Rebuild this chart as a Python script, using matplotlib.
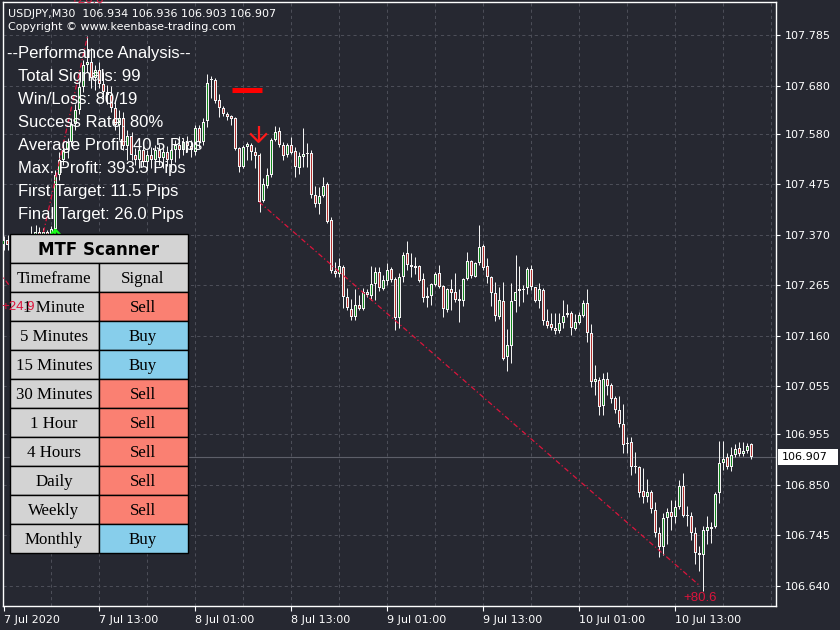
import matplotlib
matplotlib.use('Agg')
import matplotlib.pyplot as plt
from matplotlib.patches import Rectangle
import numpy as np

# ---------------- data (USDJPY M30 candles) ----------------
opens = [
 107.348,107.359,107.348,107.313,107.265,107.242,107.234,107.292,107.359,107.375,
 107.367,107.375,107.359,107.382,107.494,107.525,107.546,107.563,107.600,107.629,
 107.677,107.723,107.729,107.696,107.712,107.683,107.667,107.660,107.633,107.598,
 107.613,107.554,107.575,107.536,107.525,107.546,107.521,107.536,107.525,107.546,
 107.529,107.542,107.525,107.546,107.556,107.546,107.563,107.554,107.542,107.592,
 107.563,107.606,107.692,107.692,107.650,107.633,107.621,107.617,107.613,107.550,
 107.511,107.552,107.556,107.542,107.536,107.440,107.471,107.494,107.567,107.586,
 107.556,107.536,107.556,107.544,107.509,107.531,107.538,107.540,107.452,107.434,
 107.450,107.475,107.400,107.294,107.288,107.303,107.240,107.215,107.199,107.224,
 107.215,107.251,107.242,107.267,107.292,107.257,107.274,107.298,107.278,107.197,
 107.282,107.332,107.307,107.305,107.305,107.278,107.238,107.242,107.265,107.290,
 107.263,107.213,107.257,107.251,107.232,107.232,107.278,107.315,107.282,107.311,
 107.346,107.305,107.282,107.249,107.199,107.232,107.115,107.138,107.232,107.253,
 107.257,107.259,107.298,107.261,107.232,107.255,107.190,107.184,107.176,107.170,
 107.186,107.203,107.207,107.174,107.186,107.201,107.228,107.165,107.063,107.068,
 107.014,107.070,107.057,107.030,107.005,106.976,106.937,106.939,106.887,106.887,
 106.837,106.824,106.835,106.797,106.749,106.720,106.781,106.793,106.783,106.803,
 106.847,106.785,106.785,106.749,106.708,106.704,106.754,106.762,106.762,106.833,
 106.895,106.907,106.887,106.912,106.926,106.914,106.920,106.934]
highs = [
 107.367,107.369,107.355,107.321,107.276,107.255,107.301,107.388,107.390,107.386,
 107.384,107.380,107.388,107.504,107.542,107.563,107.571,107.613,107.642,107.687,
 107.733,107.783,107.758,107.723,107.729,107.708,107.681,107.679,107.650,107.629,
 107.625,107.588,107.583,107.550,107.556,107.554,107.546,107.552,107.556,107.558,
 107.550,107.554,107.550,107.567,107.575,107.571,107.575,107.567,107.598,107.598,
 107.613,107.704,107.700,107.696,107.662,107.638,107.625,107.619,107.615,107.552,
 107.556,107.563,107.561,107.552,107.540,107.488,107.509,107.571,107.596,107.594,
 107.563,107.561,107.573,107.552,107.542,107.592,107.561,107.546,107.471,107.469,
 107.490,107.479,107.407,107.313,107.321,107.307,107.259,107.236,107.257,107.244,
 107.259,107.257,107.305,107.303,107.303,107.286,107.311,107.303,107.282,107.290,
 107.334,107.357,107.332,107.323,107.307,107.290,107.261,107.269,107.292,107.307,
 107.265,107.259,107.278,107.290,107.257,107.280,107.334,107.317,107.313,107.390,
 107.350,107.321,107.284,107.271,107.261,107.271,107.174,107.269,107.328,107.305,
 107.265,107.303,107.307,107.261,107.269,107.259,107.215,107.207,107.207,107.207,
 107.234,107.226,107.211,107.205,107.209,107.234,107.257,107.184,107.099,107.074,
 107.082,107.084,107.061,107.034,107.034,107.018,106.949,106.949,106.918,106.889,
 106.885,106.862,106.839,106.814,106.762,106.791,106.801,106.818,106.818,106.860,
 106.874,106.806,106.793,106.762,106.722,106.764,106.785,106.772,106.835,106.941,
 106.941,106.916,106.928,106.934,106.939,106.939,106.937,106.936]
lows = [
 107.338,107.338,107.307,107.259,107.230,107.222,107.228,107.286,107.348,107.359,
 107.355,107.348,107.346,107.380,107.484,107.515,107.529,107.554,107.588,107.621,
 107.667,107.708,107.675,107.671,107.675,107.650,107.642,107.625,107.588,107.567,
 107.546,107.525,107.525,107.515,107.509,107.513,107.504,107.509,107.511,107.515,
 107.509,107.513,107.504,107.521,107.529,107.536,107.542,107.531,107.536,107.550,
 107.556,107.594,107.654,107.644,107.615,107.617,107.608,107.598,107.546,107.500,
 107.509,107.525,107.525,107.509,107.417,107.438,107.467,107.490,107.565,107.552,
 107.525,107.531,107.538,107.490,107.496,107.511,107.511,107.446,107.427,107.413,
 107.448,107.394,107.290,107.282,107.282,107.217,107.213,107.192,107.192,107.213,
 107.213,107.240,107.234,107.234,107.253,107.255,107.265,107.271,107.172,107.176,
 107.271,107.296,107.282,107.288,107.271,107.230,107.219,107.224,107.263,107.259,
 107.199,107.209,107.213,107.230,107.188,107.222,107.276,107.280,107.282,107.307,
 107.296,107.269,107.222,107.190,107.194,107.109,107.086,107.103,107.209,107.222,
 107.230,107.246,107.255,107.230,107.217,107.182,107.176,107.172,107.163,107.165,
 107.176,107.199,107.161,107.172,107.184,107.199,107.147,107.053,107.036,106.995,
 106.995,107.036,107.020,106.999,106.970,106.916,106.916,106.870,106.874,106.824,
 106.812,106.814,106.791,106.741,106.699,106.704,106.726,106.756,106.770,106.799,
 106.783,106.764,106.735,106.685,106.670,106.629,106.726,106.729,106.760,106.812,
 106.880,106.882,106.878,106.907,106.910,106.910,106.916,106.903]
closes = [
 107.359,107.348,107.313,107.265,107.242,107.234,107.292,107.359,107.375,107.367,
 107.375,107.359,107.382,107.494,107.525,107.546,107.563,107.600,107.629,107.677,
 107.723,107.729,107.696,107.712,107.683,107.667,107.660,107.633,107.598,107.613,
 107.554,107.575,107.536,107.525,107.546,107.521,107.536,107.525,107.546,107.529,
 107.542,107.525,107.546,107.556,107.546,107.563,107.554,107.546,107.592,107.563,
 107.604,107.685,107.694,107.648,107.633,107.621,107.615,107.610,107.548,107.511,
 107.552,107.558,107.542,107.534,107.438,107.475,107.494,107.567,107.583,107.556,
 107.534,107.556,107.540,107.511,107.534,107.538,107.540,107.452,107.434,107.450,
 107.471,107.396,107.294,107.288,107.305,107.240,107.217,107.199,107.224,107.215,
 107.251,107.244,107.267,107.292,107.259,107.276,107.296,107.276,107.197,107.282,
 107.328,107.307,107.303,107.301,107.274,107.238,107.242,107.267,107.288,107.261,
 107.215,107.257,107.249,107.234,107.236,107.278,107.315,107.284,107.311,107.344,
 107.301,107.282,107.249,107.201,107.234,107.111,107.140,107.232,107.251,107.257,
 107.255,107.298,107.261,107.232,107.257,107.190,107.180,107.176,107.170,107.186,
 107.201,107.207,107.176,107.188,107.203,107.228,107.165,107.063,107.070,107.011,
 107.070,107.055,107.028,107.005,106.976,106.932,106.934,106.887,106.889,106.833,
 106.824,106.835,106.799,106.749,106.720,106.781,106.793,106.783,106.803,106.847,
 106.785,106.787,106.749,106.708,106.704,106.756,106.762,106.758,106.830,106.895,
 106.903,106.887,106.912,106.924,106.914,106.920,106.930,106.907]

price_ticks = [107.785, 107.680, 107.580, 107.475, 107.370, 107.265,
               107.160, 107.055, 106.955, 106.850, 106.745, 106.640]
time_tick_bars = [0, 24, 48, 72, 96, 120, 144, 168]
time_tick_labels = ['7 Jul 2020', '7 Jul 13:00', '8 Jul 01:00', '8 Jul 13:00',
                    '9 Jul 01:00', '9 Jul 13:00', '10 Jul 01:00', '10 Jul 13:00']

header_line = 'USDJPY,M30  106.934 106.936 106.903 106.907'
copyright_line = 'Copyright \u00a9 www.keenbase-trading.com'
perf_title = '--Performance Analysis--'
perf_lines = ['Total Signals: 99', 'Win/Loss: 80/19', 'Success Rate: 80%',
              'Average Profit: 40.5 Pips', 'Max. Profit: 393.5 Pips',
              'First Target: 11.5 Pips', 'Final Target: 26.0 Pips']
timeframes = ['1 Minute', '5 Minutes', '15 Minutes', '30 Minutes', '1 Hour',
              '4 Hours', 'Daily', 'Weekly', 'Monthly']
signals = ['Sell', 'Buy', 'Buy', 'Sell', 'Sell', 'Sell', 'Sell', 'Sell', 'Buy']

# trade lines (bar index, price) and labels
trade_a = ([-3, 4.7], [107.314, 107.228]); label_a = ('+24.9', 3.55, 107.219)
trade_b = ([10, 21], [107.375, 107.783]); label_b = '+26.0'
trade_c = ([63.9, 174.0], [107.438, 106.640]); label_c = ('+80.6', 174.2, 106.614)
sell_arrow_bar = 63.75
buy_arrow_bar = 13
stop_bar = ([57.2, 64.7], 107.670)

# ---------------- style ----------------
BG = '#262831'
GRID = '#4c4e58'
WICK = '#f2f2f2'
GREEN = '#13891d'
RED = '#b3302e'
CRIMSON = '#dc143c'
LGRAY = '#d3d3d3'
SALMON = '#fa8072'
SKY = '#87ceeb'

W, H = 840, 630
fig = plt.figure(figsize=(W / 100, H / 100), dpi=100, facecolor=BG)
Lp, Rp, Tp, Bp = 2.7, 776.0, 2.0, 605.7
ax = fig.add_axes([Lp / W, 1 - Bp / H, (Rp - Lp) / W, (Bp - Tp) / H])
ax.set_facecolor(BG)
# 4 px per bar; bar centres fall on pixel centres
x0 = -(3.5 - Lp) / 4.0
ax.set_xlim(x0, x0 + (Rp - Lp) / 4.0)
ax.set_ylim(106.598, 107.854)

o = np.array(opens); h = np.array(highs); l = np.array(lows); c = np.array(closes)
n = len(o)
x = np.arange(n)
px = (107.854 - 106.598) / (Bp - Tp)

# grid
for v in price_ticks:
    ax.axhline(v, color=GRID, lw=0.75, ls=(0, (3, 3)), zorder=0)
for k in range(12, 194, 12):
    ax.axvline(k, color=GRID, lw=0.75, ls=(0, (3, 3)), zorder=0)
ax.axhline(c[-1], color='#5d5f69', lw=0.8, zorder=0.5)

# candles: white wick + white 3px body with a 1px coloured core
ax.vlines(x, l, h, color=WICK, lw=0.72, zorder=2)
lo = np.minimum(o, c); hi = np.maximum(o, c)
hgt = np.maximum(hi - lo, px)
ax.bar(x, hgt, bottom=lo, width=0.75, color=WICK, lw=0, zorder=3)
m = (hi - lo) > 2.5 * px
cols = [GREEN if cc >= oo else RED for oo, cc in zip(o[m], c[m])]
ax.bar(x[m], (hi - lo)[m] - 2 * px, bottom=lo[m] + px, width=0.25, color=cols,
       lw=0, zorder=4)

# trade lines
dash = (0, (4, 2, 1, 2))
for tx, ty in (trade_a, trade_b, trade_c):
    ax.plot(tx, ty, color=CRIMSON, lw=0.9, ls=dash, zorder=5)
ax.text(label_c[1], label_c[2], label_c[0], color=CRIMSON, fontsize=9.5,
        family='Liberation Sans', ha='center', va='center', zorder=6)

# sell arrow
sa = sell_arrow_bar
ax.plot([sa, sa], [107.596, 107.563], color='#ff1a1a', lw=1.6, zorder=6, solid_capstyle='butt')
ax.plot([sa - 1.9, sa, sa + 1.9], [107.579, 107.563, 107.579], color='#ff1a1a', lw=1.6, zorder=6)
# buy arrow (mostly hidden by table)
ba = buy_arrow_bar
ax.plot([ba, ba], [107.380, 107.330], color='#1aff1a', lw=1.6, zorder=6)
ax.plot([ba - 1.75, ba, ba + 1.75], [107.365, 107.380, 107.365], color='#1aff1a', lw=1.6, zorder=6)
# red stop marker
ax.plot(stop_bar[0], [stop_bar[1], stop_bar[1]], color='#ff0000', lw=3.6,
        solid_capstyle='butt', zorder=6)

# axes frame / ticks
for s in ax.spines.values():
    s.set_color('white'); s.set_linewidth(1.0)
ax.yaxis.tick_right()
ax.set_yticks(price_ticks)
ax.set_yticklabels([f'{v:.3f}' for v in price_ticks])
ax.set_xticks(time_tick_bars)
ax.set_xticklabels(time_tick_labels)
for lab in ax.get_xticklabels():
    lab.set_horizontalalignment('left')
ax.tick_params(axis='y', colors='white', labelsize=8, length=3, width=0.8, pad=3)
ax.tick_params(axis='x', colors='white', labelsize=8, length=3.5, width=0.8, pad=3)
for lab in ax.get_xticklabels() + ax.get_yticklabels():
    lab.set_family('DejaVu Sans')

# ---------------- overlay (pixel coordinates) ----------------
ov = fig.add_axes([0, 0, 1, 1])
ov.set_xlim(0, W); ov.set_ylim(H, 0)
ov.axis('off'); ov.patch.set_alpha(0); ov.set_zorder(5)

# current price box
disp = ax.transData.transform((0, c[-1]))
yp = H - disp[1]
ov.add_patch(Rectangle((778, yp - 8), 60, 16, fc='white', ec='none'))
ov.text(782, yp, f'{c[-1]:.3f}', color='black', fontsize=8, family='DejaVu Sans',
        va='center', ha='left')

ov.text(8, 17, header_line, color='white', fontsize=8, family='DejaVu Sans', va='baseline')
ov.text(8, 30, copyright_line, color='white', fontsize=8, family='DejaVu Sans', va='baseline')
ov.text(87, 3, label_b, color=CRIMSON, fontsize=9.5, family='Liberation Sans',
        ha='center', va='baseline')

ov.text(7, 58, perf_title, color='white', fontsize=12, family='Liberation Sans', va='baseline')
for i, line in enumerate(perf_lines):
    ov.text(18, 81 + 23 * i, line, color='white', fontsize=12, family='Liberation Sans',
            va='baseline')

# MTF scanner table
tx0, tx1, tx2 = 9.5, 98.5, 187.5
ty0, rh = 233.5, 29.0
ov.add_patch(Rectangle((tx0, ty0), tx2 - tx0, rh, fc=LGRAY, ec='black', lw=1.0))
ov.text((tx0 + tx2) / 2, ty0 + 21.5, 'MTF Scanner', ha='center', va='baseline',
        fontsize=12, fontweight='bold', family='DejaVu Sans', color='black')
rows = [('Timeframe', 'Signal')] + list(zip(timeframes, signals))
for i, (tf, sg) in enumerate(rows):
    y0 = ty0 + rh * (i + 1)
    ov.add_patch(Rectangle((tx0, y0), tx1 - tx0, rh, fc=LGRAY, ec='black', lw=1.0))
    fc2 = LGRAY if i == 0 else (SALMON if sg == 'Sell' else SKY)
    ov.add_patch(Rectangle((tx1, y0), tx2 - tx1, rh, fc=fc2, ec='black', lw=1.0))
    ov.text((tx0 + tx1) / 2, y0 + 20.5, tf, ha='center', va='baseline', fontsize=12.2,
            family='Liberation Serif', color='black')
    ov.text((tx1 + tx2) / 2, y0 + 20.5, sg, ha='center', va='baseline', fontsize=12.2,
            family='Liberation Serif', color='black')

# +24.9 label drawn above the table
ov.text(label_a[1], label_a[2], label_a[0], transform=ax.transData, color=CRIMSON,
        fontsize=9.5, family='Liberation Sans', ha='center', va='center', zorder=10)

fig.savefig('out.png', dpi=100, facecolor=BG)
